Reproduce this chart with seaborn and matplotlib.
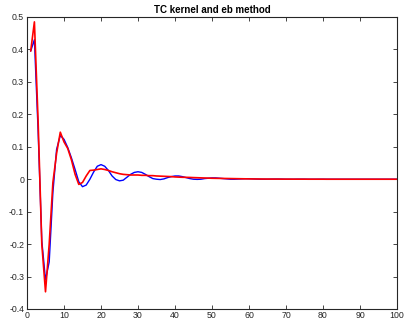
import numpy as np
import pandas as pd
import matplotlib
matplotlib.use("Agg")
import matplotlib.pyplot as plt
import seaborn as sns

lags = list(range(1, 101))

true_ir = [0.395, 0.43, 0.15, -0.19, -0.31, -0.255, -0.04, 0.092, 0.135, 0.123,
           0.098, 0.066, 0.03, -0.008, -0.023, -0.018, 0.0, 0.022, 0.04, 0.045,
           0.04, 0.027, 0.01, -0.001, -0.005, -0.003, 0.006, 0.015, 0.021, 0.023,
           0.021, 0.015, 0.008, 0.002, 0.0, -0.001, 0.001, 0.005, 0.008, 0.01,
           0.01, 0.008, 0.005, 0.002, 0.0, -0.0005, 0.0, 0.002, 0.003, 0.004,
           0.004, 0.003, 0.002, 0.001, 0.0, 0.0, 0.0005, 0.001, 0.0015, 0.0015,
           0.001, 0.0005, 0.0, 0.0, 0.0, 0.0003, 0.0005, 0.0005, 0.0003, 0.0,
           0.0, 0.0, 0.0002, 0.0002, 0.0002, 0.0, 0.0, 0.0, 0.0001, 0.0001,
           0.0, 0.0, 0.0, 0.0, 0.0, 0.0, 0.0, 0.0, 0.0, 0.0,
           0.0, 0.0, 0.0, 0.0, 0.0, 0.0, 0.0, 0.0, 0.0, 0.0]

tc_est = [0.395, 0.485, 0.18, -0.2, -0.347, -0.2, -0.01, 0.08, 0.145, 0.115,
          0.095, 0.06, 0.015, -0.016, -0.01, 0.01, 0.027, 0.028, 0.03, 0.032,
          0.03, 0.027, 0.023, 0.02, 0.017, 0.015, 0.014, 0.013, 0.013, 0.013,
          0.012, 0.012, 0.011, 0.011, 0.01, 0.0095, 0.009, 0.0085, 0.008, 0.007,
          0.0065, 0.006, 0.0058, 0.0055, 0.005, 0.0046, 0.0042, 0.0038, 0.0034, 0.003,
          0.0028, 0.0026, 0.0024, 0.0022, 0.002, 0.0018, 0.0016, 0.0014, 0.0012, 0.001,
          0.0009, 0.0008, 0.0007, 0.0006, 0.0005, 0.0005, 0.0004, 0.0004, 0.0003, 0.0003,
          0.0003, 0.0002, 0.0002, 0.0002, 0.0002, 0.0001, 0.0001, 0.0001, 0.0001, 0.0001,
          0.0, 0.0, 0.0, 0.0, 0.0, 0.0, 0.0, 0.0, 0.0, 0.0,
          0.0, 0.0, 0.0, 0.0, 0.0, 0.0, 0.0, 0.0, 0.0, 0.0]

x_ticks = list(range(0, 101, 10))
y_ticks = [-0.4, -0.3, -0.2, -0.1, 0.0, 0.1, 0.2, 0.3, 0.4, 0.5]
y_labels = ["-0.4", "-0.3", "-0.2", "-0.1", "0", "0.1", "0.2", "0.3", "0.4", "0.5"]
title = "TC kernel and eb method"

sns.set_style("ticks")
plt.rcParams["font.family"] = ["Liberation Sans", "DejaVu Sans"]

df = pd.DataFrame({"k": lags, "true": true_ir, "est": tc_est})

fig = plt.figure(figsize=(4.05, 3.2), dpi=100)
ax = fig.add_axes([27 / 405, 1 - 309 / 320, 370 / 405, 292 / 320])

sns.lineplot(data=df, x="k", y="true", ax=ax, color="#0000ff", linewidth=1.0)
sns.lineplot(data=df, x="k", y="est", ax=ax, color="#ff0000", linewidth=1.2)

ax.set_xlim(0, 100)
ax.set_ylim(-0.4, 0.5)
ax.set_xticks(x_ticks)
ax.set_xticklabels([str(t) for t in x_ticks])
ax.set_yticks(y_ticks)
ax.set_yticklabels(y_labels)
ax.set_xlabel("")
ax.set_ylabel("")
ax.set_title(title, fontsize=7, fontweight="bold", pad=3, color="#000000")

gray = "#262626"
for s in ax.spines.values():
    s.set_visible(True)
    s.set_color(gray)
    s.set_linewidth(0.8)
ax.tick_params(direction="in", length=3, width=0.6, colors=gray, labelsize=6.3,
               top=True, right=True)
ax.tick_params(axis="x", pad=1.5)
ax.tick_params(axis="y", pad=2)

fig.savefig("out.png", dpi=100)
